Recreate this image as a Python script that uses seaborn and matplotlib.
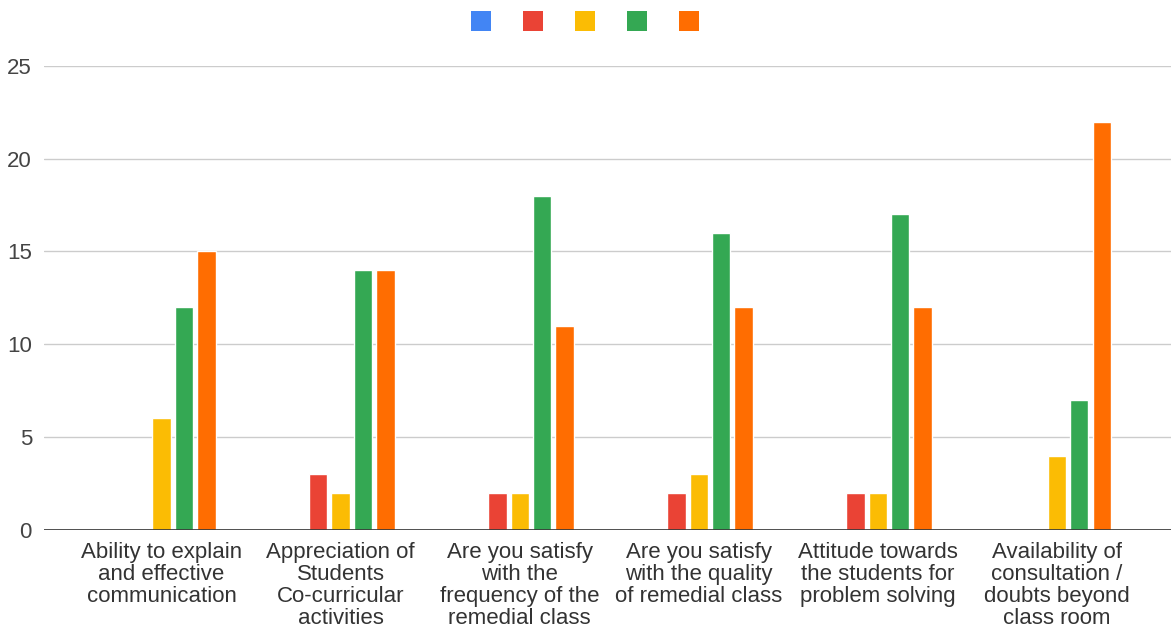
import matplotlib
matplotlib.use("Agg")
import matplotlib.pyplot as plt
import matplotlib.patches as mpatches
import pandas as pd
import seaborn as sns

categories = [
    "Ability to explain\nand effective\ncommunication",
    "Appreciation of\nStudents\nCo-curricular\nactivities",
    "Are you satisfy\nwith the\nfrequency of the\nremedial class",
    "Are you satisfy\nwith the quality\nof remedial class",
    "Attitude towards\nthe students for\nproblem solving",
    "Availability of\nconsultation /\ndoubts beyond\nclass room",
]
series = ["1", "2", "3", "4", "5"]
colors = ["#4285f4", "#ea4335", "#fbbc04", "#34a853", "#ff6d01"]
values = {
    "1": [0, 0, 0, 0, 0, 0],
    "2": [0, 3, 2, 2, 2, 0],
    "3": [6, 2, 2, 3, 2, 4],
    "4": [12, 14, 18, 16, 17, 7],
    "5": [15, 14, 11, 12, 12, 22],
}

rows = []
for s in series:
    for cat, v in zip(categories, values[s]):
        rows.append({"question": cat, "rating": s, "count": v})
df = pd.DataFrame(rows)

sns.set_style("white")
plt.rcParams["font.family"] = ["Liberation Sans", "DejaVu Sans"]

fig = plt.figure(figsize=(11.71, 6.33), dpi=100)
ax = fig.add_axes([0.038, 0.163, 0.962, 0.733])

sns.barplot(data=df, x="question", y="count", hue="rating", order=categories,
            hue_order=series, palette=colors, width=0.625, gap=0.18,
            saturation=1, ax=ax, legend=False)

ax.set_xlim(-0.654, 5.637)
ax.set_ylim(0, 25)
ax.set_yticks([0, 5, 10, 15, 20, 25])
ax.grid(axis="y", color="#cccccc", linewidth=1)
ax.set_axisbelow(True)
ax.axhline(0, color="#333333", linewidth=1.2)
for sp in ax.spines.values():
    sp.set_visible(False)
ax.tick_params(axis="y", length=0, labelsize=16, colors="#444444", pad=9)
ax.tick_params(axis="x", length=0, labelsize=16, colors="#333333", pad=8.5)
for t in ax.get_xticklabels():
    t.set_linespacing(1.06)
ax.set_xlabel("")
ax.set_ylabel("")

handles = [mpatches.Patch(facecolor=c, edgecolor="none") for c in colors]
fig.legend(handles, [""] * len(series), loc="center", ncol=5,
           bbox_to_anchor=(585 / 1171, 1 - 21 / 633), frameon=False,
           fontsize=10, handlelength=1.45, handleheight=1.8,
           columnspacing=2.3, handletextpad=0)

fig.savefig("out.png", dpi=100, facecolor="white")
